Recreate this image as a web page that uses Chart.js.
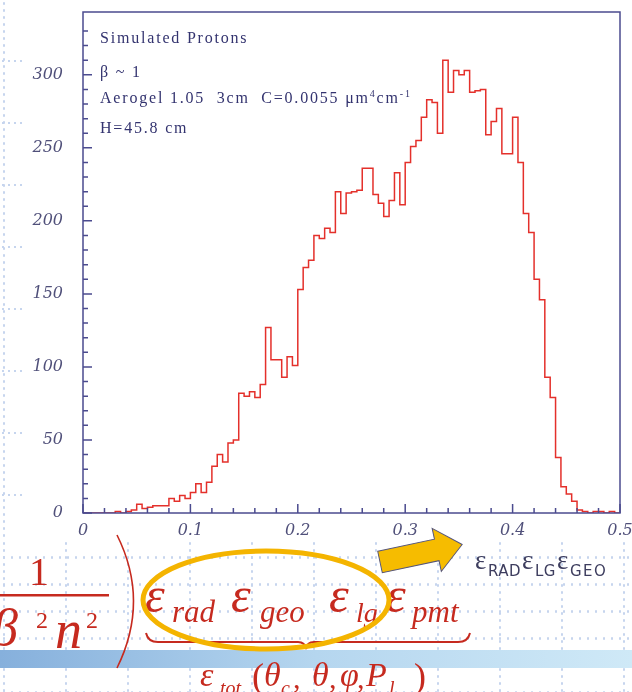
<!DOCTYPE html>
<html>
<head>
<meta charset="utf-8">
<title>Simulated Protons</title>
<script src="https://cdn.jsdelivr.net/npm/chart.js@4.4.1/dist/chart.umd.min.js"></script>
<style>
html, body { margin: 0; padding: 0; background: #fff; }
#wrap { position: relative; width: 632px; height: 692px; overflow: hidden; }
#chart { position: absolute; left: 0; top: 0; z-index: 1; }
#over { position: absolute; left: 0; top: 0; z-index: 2; }
.dots { position: absolute; z-index: 0; }
#dotsLeft {
    left: 0; top: 0; width: 22px; height: 540px;
    background-image: radial-gradient(circle, #c6d5ee 1px, transparent 1.5px), radial-gradient(circle, #c6d5ee 1px, transparent 1.5px);
    background-size: 22px 7px, 6px 62px;
    background-position: -7px 0, 0 30px;
}
#dotsBottom {
    left: 0; top: 540px; width: 632px; height: 152px;
    background-image: radial-gradient(circle, #c6d5ee 1px, transparent 1.5px), radial-gradient(circle, #c6d5ee 1px, transparent 1.5px);
    background-size: 62px 7px, 8px 27px;
    background-position: -27px 0, 0 4px;
}
</style>
</head>
<body>
<div id="wrap">
    <div class="dots" id="dotsLeft"></div>
    <div class="dots" id="dotsBottom"></div>
    <canvas id="chart" width="632" height="692"></canvas>
    <svg id="over" width="632" height="692" xmlns="http://www.w3.org/2000/svg">
        <defs>
            <linearGradient id="band" x1="0" x2="1" y1="0" y2="0">
                <stop offset="0" stop-color="#86b0dc"/>
                <stop offset="0.5" stop-color="#b5d6ef"/>
                <stop offset="1" stop-color="#cfe9f7"/>
            </linearGradient>
        </defs>

        <!-- notes inside the frame -->
        <g font-family="Liberation Serif, serif" font-size="16" fill="#33336f" letter-spacing="1.8">
            <text x="100" y="43">Simulated Protons</text>
            <text x="100" y="77">β ~ 1</text>
            <text x="100" y="103">Aerogel 1.05&#160; 3cm&#160; C=0.0055 μm<tspan dy="-6" font-size="10">4</tspan><tspan dy="6">cm</tspan><tspan dy="-6" font-size="10">-1</tspan></text>
            <text x="100" y="133">H=45.8 cm</text>
        </g>

        <!-- slide band -->
        <rect x="0" y="650" width="632" height="18" fill="url(#band)"/>

        <!-- formula -->
        <g font-family="Liberation Serif, serif" fill="#c62a1f">
            <text x="39" y="585" font-size="40" text-anchor="middle">1</text>
            <rect x="0" y="594" width="109" height="2.5"/>
            <text x="-8" y="645" font-size="52" font-style="italic">β</text>
            <text x="36" y="628" font-size="24">2</text>
            <text x="55" y="648" font-size="54" font-style="italic">n</text>
            <text x="86" y="628" font-size="24">2</text>

            <g font-style="italic">
                <text x="145" y="612" font-size="50">ε</text>
                <text x="172" y="622" font-size="31">rad</text>
                <text x="231" y="612" font-size="50">ε</text>
                <text x="260" y="622" font-size="31">geo</text>
                <text x="329" y="612" font-size="50">ε</text>
                <text x="356" y="622" font-size="28">lg</text>
                <text x="386" y="612" font-size="50">ε</text>
                <text x="412" y="622" font-size="31">pmt</text>

                <text x="200" y="686" font-size="34">ε</text>
                <text x="220" y="695" font-size="20">tot</text>
                <text x="252" y="688" font-size="36" font-style="normal">(</text>
                <text x="264" y="686" font-size="34">θ</text>
                <text x="281" y="695" font-size="20">c</text>
                <text x="293" y="688" font-size="30" font-style="normal">,</text>
                <text x="312" y="686" font-size="34">θ</text>
                <text x="329" y="688" font-size="30" font-style="normal">,</text>
                <text x="340" y="686" font-size="34">φ</text>
                <text x="357" y="688" font-size="30" font-style="normal">,</text>
                <text x="366" y="686" font-size="34">P</text>
                <text x="389" y="695" font-size="20">l</text>
                <text x="414" y="688" font-size="36" font-style="normal">)</text>
            </g>
        </g>
        <path d="M117,535 Q150,601 117,668" fill="none" stroke="#c62a1f" stroke-width="1.6"/>
        <path d="M146,633 Q148,642 158,642 L298,642 Q305,642 306,649 Q307,642 314,642 L458,642 Q468,642 470,633"
              fill="none" stroke="#c62a1f" stroke-width="2"/>

        <!-- highlight -->
        <ellipse cx="266" cy="600" rx="123" ry="49" fill="none" stroke="#f4b400" stroke-width="5"/>
        <g transform="translate(380,562) rotate(-12)">
            <polygon points="0,-11 58,-11 58,-22 84,0 58,22 58,11 0,11" fill="#f6bc00" stroke="#55557a" stroke-width="1"/>
        </g>

        <g fill="#3d3d5e">
            <text x="475" y="569" font-family="Liberation Serif, serif" font-size="27">ε</text>
            <text x="488" y="576" font-family="DejaVu Sans, sans-serif" font-size="15" letter-spacing="0.5">RAD</text>
            <text x="522" y="569" font-family="Liberation Serif, serif" font-size="27">ε</text>
            <text x="535" y="576" font-family="DejaVu Sans, sans-serif" font-size="15" letter-spacing="0.5">LG</text>
            <text x="557" y="569" font-family="Liberation Serif, serif" font-size="27">ε</text>
            <text x="570" y="576" font-family="DejaVu Sans, sans-serif" font-size="15" letter-spacing="1.5">GEO</text>
        </g>
    </svg>
</div>
<script>
// histogram of eps_RAD * eps_LG * eps_GEO, bins of 0.005 from 0 to 0.5
var binWidth = 0.005;
var counts = [
    0, 0, 0, 0, 0, 0, 1, 0, 1, 2,
    6, 3, 4, 5, 5, 5, 10, 8, 12, 10,
    14, 20, 14, 21, 32, 40, 35, 48, 50, 82,
    80, 83, 79, 88, 127, 105, 105, 93, 107, 101,
    153, 168, 173, 190, 188, 195, 192, 220, 205, 219,
    220, 221, 236, 236, 218, 212, 203, 214, 233, 211,
    240, 251, 255, 271, 283, 281, 260, 310, 288, 303,
    300, 303, 288, 289, 290, 259, 268, 277, 246, 246,
    271, 240, 205, 192, 160, 146, 93, 79, 38, 18,
    13, 8, 2, 1, 0, 1, 1, 0, 1, 0
];
var xTickLabels = ['0', '0.1', '0.2', '0.3', '0.4', '0.5'];
var yTickLabels = ['0', '50', '100', '150', '200', '250', '300'];

var points = [];
for (var i = 0; i < counts.length; i++) {
    points.push({ x: i * binWidth, y: counts[i] });
}
points.push({ x: counts.length * binWidth, y: counts[counts.length - 1] });

var frameColor = '#4b4b8f';
var tickFont = { family: 'DejaVu Serif', style: 'italic', size: 16 };

// ROOT style frame with inward ticks
var frame = {
    id: 'frame',
    afterDatasetsDraw: function(chart) {
        var ctx = chart.ctx;
        var a = chart.chartArea;
        var xs = chart.scales.x;
        var ys = chart.scales.y;
        ctx.save();
        ctx.strokeStyle = frameColor;
        ctx.lineWidth = 1.5;
        ctx.strokeRect(a.left, a.top, a.right - a.left, a.bottom - a.top);
        ctx.beginPath();
        xs.ticks.forEach(function(t) {
            var px = xs.getPixelForValue(t.value);
            var major = Math.abs(t.value * 10 - Math.round(t.value * 10)) < 1e-6;
            ctx.moveTo(px, a.bottom);
            ctx.lineTo(px, a.bottom - (major ? 9 : 5));
        });
        ys.ticks.forEach(function(t) {
            if (t.value % 10 !== 0) return;
            var py = ys.getPixelForValue(t.value);
            ctx.moveTo(a.left, py);
            ctx.lineTo(a.left + (t.value % 50 === 0 ? 9 : 5), py);
        });
        ctx.stroke();
        ctx.restore();
    }
};

new Chart(document.getElementById('chart').getContext('2d'), {
    type: 'line',
    data: {
        datasets: [{
            data: points,
            stepped: true,
            borderColor: '#e4302b',
            borderWidth: 1.5,
            pointRadius: 0,
            fill: false
        }]
    },
    options: {
        responsive: false,
        animation: false,
        layout: { padding: { left: 8, top: 12, right: 12, bottom: 149 } },
        plugins: { legend: { display: false }, tooltip: { enabled: false } },
        scales: {
            x: {
                type: 'linear',
                min: 0,
                max: 0.5,
                grid: { display: false, drawTicks: false },
                border: { display: false },
                ticks: {
                    stepSize: 0.02,
                    autoSkip: false,
                    maxRotation: 0,
                    padding: 8,
                    color: '#50507a',
                    font: tickFont,
                    callback: function(v) {
                        var k = Math.round(v * 10);
                        return Math.abs(v * 10 - k) < 1e-6 ? xTickLabels[k] : '';
                    }
                },
                afterFit: function(s) { s.height = 30; s.paddingLeft = 0; s.paddingRight = 0; }
            },
            y: {
                min: 0,
                max: 343,
                grid: { display: false, drawTicks: false },
                border: { display: false },
                ticks: {
                    stepSize: 10,
                    autoSkip: false,
                    padding: 20,
                    color: '#50507a',
                    font: tickFont,
                    callback: function(v) {
                        return v % 50 === 0 ? yTickLabels[v / 50] : '';
                    }
                },
                afterFit: function(s) { s.width = 75; s.paddingTop = 0; s.paddingBottom = 0; }
            }
        }
    },
    plugins: [frame]
});
</script>
</body>
</html>
